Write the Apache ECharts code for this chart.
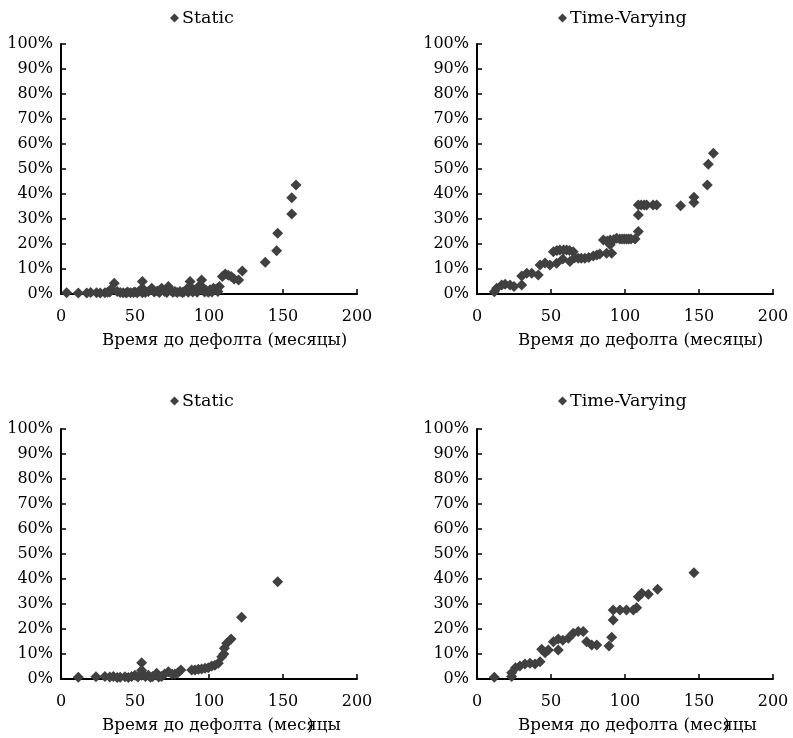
<!DOCTYPE html>
<html><head><meta charset="utf-8">
<script src="https://cdn.jsdelivr.net/npm/echarts/dist/echarts.min.js"></script>
<style>html,body{margin:0;padding:0;background:#fff}#c{width:793px;height:738px}</style>
</head><body><div id="c"></div>
<script>
// ---- data (x = months to default, y = %) ----
const seriesNames = ['Static', 'Time-Varying', 'Static', 'Time-Varying'];
const xAxisTitle = 'Время до дефолта (месяцы)';
const xTickValues = [0, 50, 100, 150, 200];
const yTickValues = [0, 10, 20, 30, 40, 50, 60, 70, 80, 90, 100];

const staticTop = [[3.8,0.5],[11.7,0.4],[17.4,0.4],[20,0.6],[24,0.5],[26.5,0.4],[29.7,0.5],[31.5,0.7],[33,0.8],[34,2],[36,4.3],[38,1],[40,0.6],[42,0.5],[44,0.4],[45,0.8],[47,0.5],[49,0.6],[50,0.8],[51.5,0.5],[53,1.2],[55,5],[55,2.3],[55,0.5],[57,0.6],[59,1],[61.3,2.3],[63,0.8],[65,1.2],[66.5,0.6],[68,2.3],[70,1],[71.5,0.6],[72.5,3],[74,1.5],[75.5,0.7],[77,1],[78.5,0.6],[80.4,1],[82,0.6],[83,0.8],[85,2],[86,0.7],[87.2,5],[88,2.5],[89,0.8],[90.5,1.5],[92,0.7],[93,3],[95,5.6],[96,2.5],[97,0.8],[98,1.5],[99.5,0.7],[100.7,1.7],[102,0.8],[103,2.3],[105,2],[106,1],[107,3],[109,7],[111,8],[113,7.5],[115,7],[117,6],[120,5.6],[122.5,9.2],[138,12.7],[145.7,17.3],[146.4,24.3],[155.9,32],[155.9,38.5],[158.8,43.6]];

const varyingTop = [[11.7,0.9],[13.3,2.3],[16.7,3.6],[19,3.9],[22.3,3.6],[25,3],[30.2,3.6],[30.2,7.2],[33.6,8.3],[37,8.3],[41.4,7.6],[42.6,11.6],[46,12.4],[49.3,11.6],[51.6,16.9],[53.8,12.3],[54,17.4],[56,17.6],[58,14],[58.5,17.6],[60.5,17.6],[62.8,13],[62.5,17.4],[65,16.9],[66,14.5],[68.4,14.3],[70.5,14.3],[72.9,14.3],[75.5,14.6],[78.6,15.2],[81,15.6],[83,16],[85.4,21.6],[87.6,16.3],[88,21.2],[90,19.7],[90,21.6],[91,16.3],[92.5,21.8],[94.4,22.3],[96.5,22],[98,22],[99.5,22],[101,22],[102.5,22],[104,22],[106.8,22],[109,25],[109,31.6],[109,35.6],[111,35.6],[113,35.6],[114.6,35.6],[119,35.6],[121.4,35.6],[137.6,35.3],[146.6,36.6],[146.6,38.7],[155.6,43.6],[156.3,51.9],[159.7,56.3]];

const staticBottom = [[11.7,0.7],[23.6,0.9],[29.7,1],[33,0.8],[35.4,1],[38,0.6],[40,0.7],[43.2,0.9],[45.5,0.6],[47.7,1],[50,1.5],[52,0.8],[54.5,6.5],[54.5,3.5],[54.5,1.5],[57,1],[59,1.5],[60.5,0.7],[62,1],[64.6,2.3],[66,0.8],[68,1],[70,2],[72.5,2.9],[75,2],[77,2],[79,2.5],[81,3.6],[88.3,3.6],[90.5,3.6],[92.8,3.9],[95,4],[97.3,4.3],[99.5,4.5],[101.8,5.2],[104,5.5],[106.3,6.3],[108.6,8.9],[110,10],[110.4,12.3],[112,14.3],[114.9,16],[122,24.7],[146.4,38.9]];

const varyingBottom = [[11.7,0.7],[23.4,1],[23.4,2.5],[26,4.5],[29,5.2],[32.4,6],[35.8,6.3],[39.2,6],[42.6,6.9],[43.7,11.9],[46,10.5],[48.2,11.6],[51.6,14.9],[54.9,16],[54.9,11.6],[58,15.5],[61.7,16.3],[65,18.3],[68.4,19],[71.8,19],[74.1,14.9],[77.5,13.6],[80.9,13.6],[89.2,13.2],[91,16.7],[92,23.6],[92,27.6],[96.6,27.6],[101,27.6],[105.6,27.6],[107.9,28.5],[109,32.9],[111.3,34.3],[115.8,33.9],[122,35.9],[146.6,42.5]];

const panelData = [staticTop, varyingTop, staticBottom, varyingBottom];

// ---- layout ----
const FONT = 'DejaVu Serif';
const FS = 16;
const TFS = 16.7;
const LFS = 17.5;
const panels = [
  {left: 61, top: 44},
  {left: 477, top: 44},
  {left: 61, top: 429},
  {left: 477, top: 429}
];
const GW = 296, GH = 250;
const MARK = '#404040';

const chart = echarts.init(document.getElementById('c'), null, {renderer: 'canvas'});

const grid = [], xAxis = [], yAxis = [], series = [], legend = [], graphic = [];
const legendPos = [
  {left: 170, top: 9}, {left: 558, top: 9}, {left: 170, top: 392}, {left: 558, top: 392}
];

function measure(t) {
  const c = document.createElement('canvas').getContext('2d');
  c.font = TFS + 'px "' + FONT + '"';
  return c.measureText(t).width;
}

panels.forEach((p, i) => {
  grid.push({left: p.left, top: p.top, width: GW, height: GH, containLabel: false});
  xAxis.push({
    type: 'value', gridIndex: i, min: xTickValues[0], max: xTickValues[xTickValues.length - 1],
    interval: xTickValues[1] - xTickValues[0],
    axisLine: {show: true, onZero: false, lineStyle: {color: '#000', width: 2}},
    axisTick: {show: true, inside: true, length: 5, lineStyle: {color: '#000', width: 1.5}},
    axisLabel: {margin: 15, color: '#000', fontFamily: FONT, fontSize: FS},
    splitLine: {show: false}
  });
  yAxis.push({
    type: 'value', gridIndex: i, min: yTickValues[0], max: yTickValues[yTickValues.length - 1],
    interval: yTickValues[1] - yTickValues[0],
    axisLine: {show: true, onZero: false, lineStyle: {color: '#000', width: 2}},
    axisTick: {show: true, inside: true, length: 5, lineStyle: {color: '#000', width: 1.5}},
    axisLabel: {margin: 8, color: '#000', fontFamily: FONT, fontSize: FS, formatter: '{value}%'},
    splitLine: {show: false}
  });
  series.push({
    name: seriesNames[i], type: 'scatter', xAxisIndex: i, yAxisIndex: i,
    symbol: 'diamond', symbolSize: 11,
    itemStyle: {color: MARK, opacity: 1},
    data: panelData[i]
  });
  legend.push({
    left: legendPos[i].left, top: legendPos[i].top, padding: 0,
    itemWidth: 9, itemHeight: 9, itemGap: 4,
    data: [{name: seriesNames[i], icon: 'diamond'}],
    textStyle: {fontFamily: FONT, fontSize: LFS, color: '#000', padding: [0, 0, 0, -2]},
    selectedMode: false
  });
  // axis title
  const tx = p.left + 41;
  const ty = p.top + GH + 38;
  const bottomRow = i >= 2;
  const titleText = bottomRow ? xAxisTitle.slice(0, -1) : xAxisTitle;
  graphic.push({
    type: 'text', left: tx, top: ty,
    style: {text: titleText, font: TFS + 'px "' + FONT + '"', fill: '#000'}
  });
  if (bottomRow) {
    const pre = xAxisTitle.slice(0, xAxisTitle.indexOf('я', 20));
    graphic.push({
      type: 'text', left: tx + measure(pre) + 1, top: ty,
      style: {text: ')', font: TFS + 'px "' + FONT + '"', fill: '#000'}
    });
  }
});

chart.setOption({
  backgroundColor: '#fff',
  animation: false,
  grid, xAxis, yAxis, series, legend, graphic
});
</script>
</body></html>
